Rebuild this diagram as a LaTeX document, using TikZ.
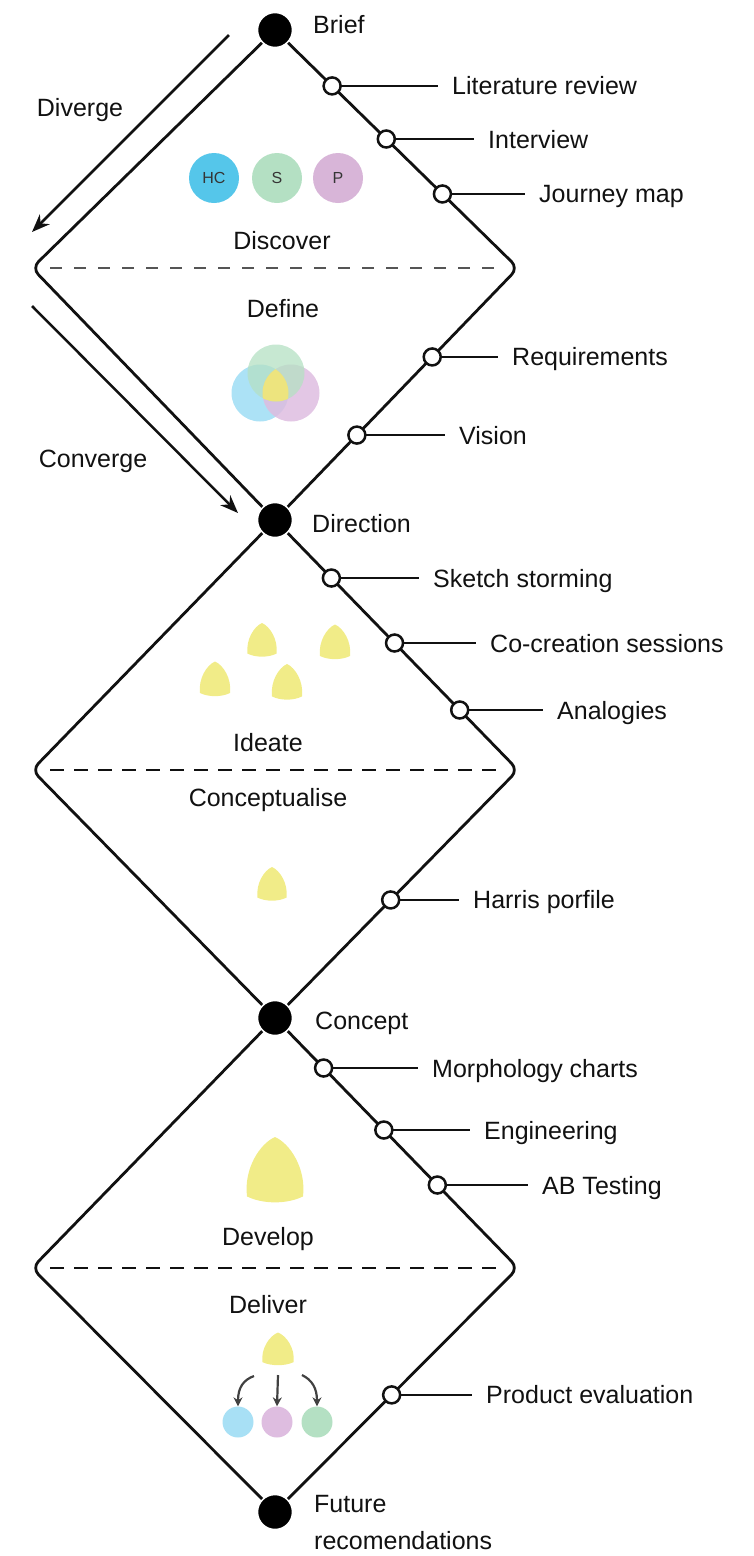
\documentclass[tikz,border=0pt]{standalone}
\usepackage{fontspec}
\setmainfont{Liberation Sans}
\usetikzlibrary{arrows.meta,calc}
\definecolor{ink}{HTML}{111111}
\definecolor{hcblue}{HTML}{55C6EA}
\definecolor{sgreen}{HTML}{B4E0C3}
\definecolor{ppink}{HTML}{D8B5D8}
\definecolor{lblue}{HTML}{A8E0F5}
\definecolor{lpink}{HTML}{DEBDE0}
\definecolor{dropy}{HTML}{F1EC88}
\definecolor{venny}{HTML}{EDE47E}
\definecolor{dashgray}{HTML}{555555}
\tikzset{
  edge/.style={line width=2.8pt, draw=ink, rounded corners=9pt},
  bigdot/.style={circle, fill=black, draw=white, line width=1.5pt, minimum size=35pt, inner sep=0pt},
  ring/.style={circle, fill=white, draw=ink, line width=2.5pt, minimum size=17pt, inner sep=0pt},
  lab/.style={font=\fontsize{25}{30}\selectfont, text=ink, inner sep=0pt, text height=18pt, text depth=0pt},
  leader/.style={line width=2.4pt, draw=ink, shorten >=14pt},
  thinleader/.style={line width=1.4pt, draw=ink, shorten >=14pt},
  bigarrow/.style={line width=2.5pt, draw=ink, -{Stealth[length=18pt,width=14pt]}},
  smallarrow/.style={line width=2.2pt, draw=ink!80, -{Stealth[length=9pt,width=9pt]}},
  divider/.style={line width=1.4pt, draw=dashgray, dash pattern=on 12pt off 12pt},
  boldDivider/.style={line width=2.4pt, draw=ink, dash pattern=on 14pt off 10pt},
  bubble/.style={circle, inner sep=0pt, minimum size=50pt, font=\fontsize{16}{18}\selectfont, text=ink!85},
  drop/.pic={\fill[dropy] (0,-0.5) .. controls (0.27,-0.4) and (0.56,-0.02) .. (0.5,0.4) .. controls (0.22,0.52) and (-0.22,0.52) .. (-0.5,0.4) .. controls (-0.56,-0.02) and (-0.27,-0.4) .. (0,-0.5) -- cycle;}
}
\begin{document}
\begin{tikzpicture}[x=1pt,y=-1pt]
\useasboundingbox (0,0) rectangle (753,1556);
% main vertices
\coordinate (v1) at (275,30);
\coordinate (v2) at (275,520);
\coordinate (v3) at (275,1018);
\coordinate (v4) at (275,1512);
\coordinate (l1) at (32,268);
\coordinate (r1) at (518,268);
\coordinate (l2) at (32,770);
\coordinate (r2) at (518,770);
\coordinate (l3) at (32,1268);
\coordinate (r3) at (518,1268);
% diamonds
\draw[edge] (v1) -- (r1) -- (v2) -- (l1) -- cycle;
\draw[edge] (v2) -- (r2) -- (v3) -- (l2) -- cycle;
\draw[edge] (v3) -- (r3) -- (v4) -- (l3) -- cycle;
% dividers
\draw[divider] ($(l1)+(18,0)$) -- ($(r1)+(-16,0)$);
\draw[boldDivider] ($(l2)+(18,0)$) -- ($(r2)+(-16,0)$);
\draw[boldDivider] ($(l3)+(18,0)$) -- ($(r3)+(-16,0)$);
% big dots
\node[bigdot] (brief) at (v1) {};
\node[bigdot] (direction) at (v2) {};
\node[bigdot] (concept) at (v3) {};
\node[bigdot] (future) at (v4) {};
\node[lab, anchor=west] (briefT) at (313,24) {Brief};
\node[lab, anchor=west] (directionT) at (312,523) {Direction};
\node[lab, anchor=west] (conceptT) at (315,1020) {Concept};
\node[lab, anchor=west] (futureT1) at (314,1503) {Future};
\node[lab, anchor=west] (futureT2) at (314,1540) {recomendations};
% marker points on edges
\path (v1) -- (r1) coordinate[pos=0.235] (p1) coordinate[pos=0.458] (p2) coordinate[pos=0.689] (p3);
\path (r1) -- (v2) coordinate[pos=0.353] (p4) coordinate[pos=0.663] (p5);
\path (v2) -- (r2) coordinate[pos=0.232] (p6) coordinate[pos=0.492] (p7) coordinate[pos=0.76] (p8);
\path (r2) -- (v3) coordinate[pos=0.524] (p9);
\path (v3) -- (r3) coordinate[pos=0.2] (p10) coordinate[pos=0.448] (p11) coordinate[pos=0.668] (p12);
\path (r3) -- (v4) coordinate[pos=0.52] (p13);
% text x positions
\coordinate (x1) at (452,0);
\coordinate (x2) at (488,0);
\coordinate (x3) at (539,0);
\coordinate (x4) at (512,0);
\coordinate (x5) at (459,0);
\coordinate (x6) at (433,0);
\coordinate (x7) at (490,0);
\coordinate (x8) at (557,0);
\coordinate (x9) at (473,0);
\coordinate (x10) at (432,0);
\coordinate (x11) at (484,0);
\coordinate (x12) at (542,0);
\coordinate (x13) at (486,0);
% labels
\node[lab, anchor=west] (t1) at (p1 -| x1) {Literature review};
\node[lab, anchor=west] (t2) at (p2 -| x2) {Interview};
\node[lab, anchor=west] (t3) at (p3 -| x3) {Journey map};
\node[lab, anchor=west] (t4) at (p4 -| x4) {Requirements};
\node[lab, anchor=west] (t5) at (p5 -| x5) {Vision};
\node[lab, anchor=west] (t6) at (p6 -| x6) {Sketch storming};
\node[lab, anchor=west] (t7) at (p7 -| x7) {Co-creation sessions};
\node[lab, anchor=west] (t8) at (p8 -| x8) {Analogies};
\node[lab, anchor=west] (t9) at (p9 -| x9) {Harris porfile};
\node[lab, anchor=west] (t10) at (p10 -| x10) {Morphology charts};
\node[lab, anchor=west] (t11) at (p11 -| x11) {Engineering};
\node[lab, anchor=west] (t12) at (p12 -| x12) {AB Testing};
\node[lab, anchor=west] (t13) at (p13 -| x13) {Product evaluation};
% leaders
\foreach \i in {1,2,3,4,5,6,7,8,9,11,12,13}{\draw[leader] (p\i) -- (t\i.west);}
\draw[thinleader] (p10) -- (t10.west);
% rings
\foreach \i in {1,...,13}{\node[ring] (m\i) at (p\i) {};}
% diverge / converge
\coordinate (dvA) at (229,35);
\coordinate (dvB) at (32,232);
\coordinate (cvA) at (32,306);
\coordinate (cvB) at (238,513);
\draw[bigarrow] (dvA) -- (dvB);
\draw[bigarrow] (cvA) -- (cvB);
\node[lab] (diverge) at (80,107) {Diverge};
\node[lab] (converge) at (93,458) {Converge};
% discover
\node[bubble, fill=hcblue] (hc) at (214,178) {HC};
\node[bubble, fill=sgreen] (s) at (277,178) {S};
\node[bubble, fill=ppink] (p) at (338,178) {P};
\node[lab] (discover) at (282,240) {Discover};
\node[lab] (define) at (283,308) {Define};
% venn
\coordinate (vg) at (276,373);
\coordinate (vb) at (260,393);
\coordinate (vp) at (291,393);
\fill[lblue, fill opacity=0.95] (vb) circle (28.5);
\fill[lpink, fill opacity=0.85] (vp) circle (28.5);
\fill[sgreen, fill opacity=0.75] (vg) circle (28.5);
\begin{scope}
\clip (vg) circle (28.5);
\clip (vb) circle (28.5);
\fill[venny] (vp) circle (28.5);
\end{scope}
% ideate
\pic[xscale=29, yscale=34] at (262,640) {drop};
\pic[xscale=30, yscale=35] at (335,642) {drop};
\pic[xscale=30, yscale=35] at (215,679) {drop};
\pic[xscale=30, yscale=36] at (287,682) {drop};
\node[lab] (ideate) at (268,742) {Ideate};
\node[lab] (conceptualise) at (268,797) {Conceptualise};
\pic[xscale=29, yscale=34] at (272,884) {drop};
% develop
\pic[xscale=56, yscale=66] at (275,1170) {drop};
\node[lab] (develop) at (268,1236) {Develop};
\node[lab] (deliver) at (268,1304) {Deliver};
\pic[xscale=31, yscale=33] at (278,1349) {drop};
\node[circle, fill=lblue, minimum size=31pt, inner sep=0pt] (c1) at (238,1422) {};
\node[circle, fill=lpink, minimum size=31pt, inner sep=0pt] (c2) at (277,1422) {};
\node[circle, fill=sgreen, minimum size=31pt, inner sep=0pt] (c3) at (317,1422) {};
\coordinate (a1) at (254,1376);
\coordinate (a2) at (278,1375);
\coordinate (a3) at (302,1375);
\draw[smallarrow] (a1) .. controls (243,1380) and (238,1388) .. (c1.north);
\draw[smallarrow] (a2) -- (c2.north);
\draw[smallarrow] (a3) .. controls (312,1380) and (317,1388) .. (c3.north);
\end{tikzpicture}
\end{document}
